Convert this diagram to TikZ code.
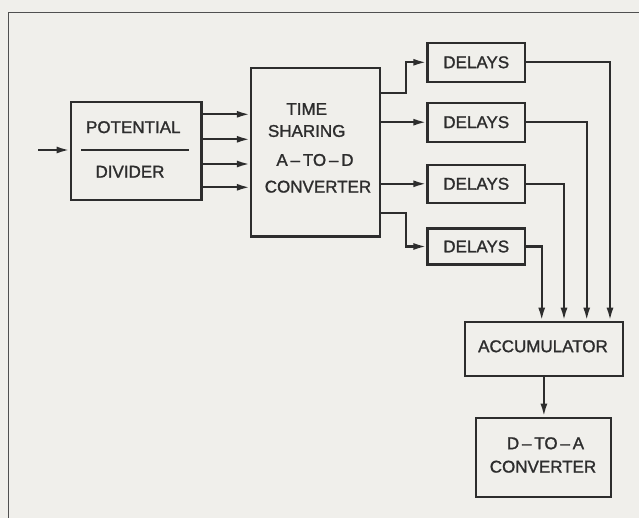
\documentclass[tikz,border=0pt]{standalone}
\usepackage{fontspec}
\setmainfont{Liberation Sans}
\newfontfamily\lett{Liberation Sans}[FakeBold=1.3]
\usetikzlibrary{arrows.meta}
\definecolor{paper}{RGB}{240,239,235}
\definecolor{ink}{RGB}{45,45,45}
\definecolor{framecol}{RGB}{80,80,80}
\begin{document}
\begin{tikzpicture}[x=1pt,y=-1pt,
  box/.style={draw=ink,line width=2.2pt,rectangle,inner sep=0pt,text=ink,font=\lett\fontsize{17}{20}\selectfont},
  lbl/.style={text=ink,font=\lett\fontsize{17}{20}\selectfont,inner sep=0pt},
  conn/.style={draw=ink,line width=2.2pt},
  arr/.style={conn,-{Latex[length=13pt,width=7pt]}},
  framestyle/.style={draw=framecol,line width=1.6pt}]
\fill[paper] (0,0) rectangle (639,518);
\useasboundingbox (0,0) rectangle (639,518);
% frame
\draw[framestyle] (8.3,518) -- (8.3,12.7) -- (639,12.7);
% potential divider
\node[box,minimum width=130.8pt,minimum height=98.3pt] (pd) at (136.1,150.85) {};
\node[lbl] (pot) at (133.3,127.2) {POTENTIAL};
\node[lbl] (div) at (130,171.7) {DIVIDER};
\draw[conn] (81,150) -- (188.7,150);
\coordinate (in) at (38.3,150);
\draw[arr] (in) -- (in -| pd.west);
% time sharing converter
\node[box,minimum width=129pt,minimum height=168.5pt] (ts) at (315.5,152.25) {};
\node[lbl] (ts1) at (306.7,109) {TIME};
\node[lbl] (ts2) at (306.7,131) {SHARING};
\node[lbl] (ts3) at (315,160) {A\,–\,TO\,–\,D};
\node[lbl] (ts4) at (318,186.7) {CONVERTER};
% divider outputs
\coordinate (p1) at (0,114.3);
\coordinate (p2) at (0,139.3);
\coordinate (p3) at (0,164);
\coordinate (p4) at (0,187.3);
\foreach \p in {p1,p2,p3,p4}
  \draw[arr] (\p -| pd.east) -- (\p -| ts.west);
% delays
\node[box,minimum width=97.5pt,minimum height=39pt] (d1) at (476.25,62.3) {DELAYS};
\node[box,minimum width=97.5pt,minimum height=39pt] (d2) at (476.25,122.2) {DELAYS};
\node[box,minimum width=97.5pt,minimum height=38pt] (d3) at (476.25,183.8) {DELAYS};
\node[box,minimum width=97.5pt,minimum height=36pt] (d4) at (476.25,246.5) {DELAYS};
% converter to delays
\coordinate (j1) at (405.7,93);
\coordinate (j4) at (405.7,212.7);
\draw[arr] (j1 -| ts.east) -- (j1) |- (d1.west);
\draw[arr] (ts.east |- d2.west) -- (d2.west);
\draw[arr] (ts.east |- d3.west) -- (d3.west);
\draw[arr] (j4 -| ts.east) -- (j4) |- (d4.west);
% accumulator
\node[box,minimum width=157.7pt,minimum height=54.3pt] (acc) at (543.9,348.9) {};
\node[lbl] (acct) at (543,346.3) {ACCUMULATOR};
\coordinate (c1) at (610,0);
\coordinate (c2) at (586.7,0);
\coordinate (c3) at (564,0);
\coordinate (c4) at (541.7,0);
\draw[arr] (d1.east) -| (c1 |- acc.north);
\draw[arr] (d2.east) -| (c2 |- acc.north);
\draw[arr] (d3.east) -| (c3 |- acc.north);
\draw[arr] (d4.east) -| (c4 |- acc.north);
% D-to-A converter
\node[box,minimum width=135pt,minimum height=79pt] (da) at (543.5,457.2) {};
\node[lbl] (da1) at (545.5,443.3) {D\,–\,TO\,–\,A};
\node[lbl] (da2) at (543,466.7) {CONVERTER};
\draw[arr] (acc.south) -- (acc.south |- da.north);
\end{tikzpicture}
\end{document}
